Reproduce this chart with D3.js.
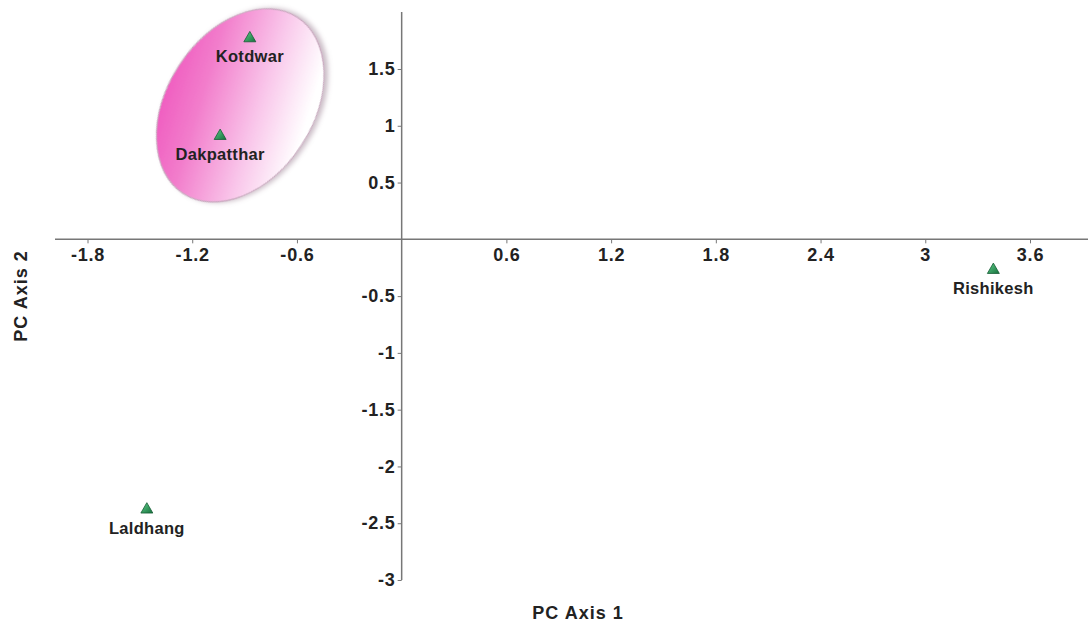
<!DOCTYPE html>
<html>
<head>
<meta charset="utf-8">
<script src="https://cdn.jsdelivr.net/npm/d3@7"></script>
<style>
  html, body { margin: 0; padding: 0; background: #fff; }
  svg text { font-family: "Liberation Sans", Arial, sans-serif; font-weight: bold; fill: #222; }
</style>
</head>
<body>
<svg id="chart" width="1088" height="630"></svg>
<script>
// ---- data ----
const sites = ["Kotdwar", "Dakpatthar", "Laldhang", "Rishikesh"];
const pc1 = [-0.87, -1.04, -1.46, 3.39];
const pc2 = [1.77, 0.91, -2.38, -0.27];
const xTicks = [-1.8, -1.2, -0.6, 0.6, 1.2, 1.8, 2.4, 3, 3.6];
const yTicks = [1.5, 1, 0.5, -0.5, -1, -1.5, -2, -2.5, -3];
const xTitle = "PC Axis 1";
const yTitle = "PC Axis 2";
// cluster ellipse (centre in data units)
const clusterCentre = [-0.925, 1.18];

const svg = d3.select("#chart");
const x = d3.scaleLinear().domain([-1.8, 3.6]).range([87.5, 1030]);
const y = d3.scaleLinear().domain([-3, 1.5]).range([580, 69]);
const fmt = d => String(d);

// defs
const defs = svg.append("defs");
const grad = defs.append("linearGradient").attr("id", "pinkGrad")
  .attr("gradientUnits", "userSpaceOnUse")
  .attr("x1", -30).attr("y1", -95).attr("x2", 25).attr("y2", 95);
grad.append("stop").attr("offset", "0").attr("stop-color", "#ee4cba");
grad.append("stop").attr("offset", "0.3").attr("stop-color", "#f27ccb");
grad.append("stop").attr("offset", "0.6").attr("stop-color", "#f9c6ea");
grad.append("stop").attr("offset", "0.85").attr("stop-color", "#ffffff");
const shadow = defs.append("filter").attr("id", "shadow")
  .attr("x", "-20%").attr("y", "-20%").attr("width", "140%").attr("height", "140%");
shadow.append("feDropShadow").attr("dx", 2).attr("dy", 3).attr("stdDeviation", 2.5)
  .attr("flood-color", "#8a6a80").attr("flood-opacity", 0.45);
const triGrad = defs.append("linearGradient").attr("id", "triGrad")
  .attr("x1", "0").attr("y1", "0").attr("x2", "1").attr("y2", "1");
triGrad.append("stop").attr("offset", "0").attr("stop-color", "#5fd08a");
triGrad.append("stop").attr("offset", "1").attr("stop-color", "#16703d");

// ellipse
svg.append("g")
  .attr("transform", `translate(${x(clusterCentre[0])},${y(clusterCentre[1])}) rotate(-57)`)
  .append("ellipse")
  .attr("cx", 0).attr("cy", 0).attr("rx", 105).attr("ry", 73)
  .attr("fill", "url(#pinkGrad)")
  .attr("stroke", "#c9a9bf").attr("stroke-width", 1.2)
  .attr("filter", "url(#shadow)");

// axes
const axisColor = "#777";
const xAxis = svg.append("g").attr("transform", `translate(0,${y(0)})`)
  .call(d3.axisBottom(x).tickValues(xTicks).tickSize(4).tickSizeOuter(0).tickFormat(fmt));
xAxis.select(".domain").remove();
xAxis.selectAll(".tick line").attr("stroke", axisColor);
xAxis.selectAll(".tick text").attr("font-size", 18).attr("letter-spacing", 0.8)
  .attr("dy", "0.95em").attr("y", 5).attr("fill", "#222");
xAxis.append("line").attr("x1", 55).attr("x2", 1088).attr("y1", 0).attr("y2", 0)
  .attr("stroke", axisColor).attr("stroke-width", 1.5);

const yAxis = svg.append("g").attr("transform", `translate(${x(0)},0)`)
  .call(d3.axisLeft(y).tickValues(yTicks).tickSize(4).tickSizeOuter(0).tickFormat(fmt));
yAxis.select(".domain").remove();
yAxis.selectAll(".tick line").attr("stroke", axisColor);
yAxis.selectAll(".tick text").attr("font-size", 18).attr("letter-spacing", 0.8)
  .attr("x", -6).attr("fill", "#222");
yAxis.append("line").attr("x1", 0).attr("x2", 0).attr("y1", 12).attr("y2", y(-3))
  .attr("stroke", axisColor).attr("stroke-width", 1.5);

// axis titles
svg.append("text").attr("x", 578).attr("y", 619).attr("text-anchor", "middle")
  .attr("font-size", 18).attr("letter-spacing", 1).text(xTitle);
svg.append("text").attr("transform", "translate(27,296) rotate(-90)").attr("text-anchor", "middle")
  .attr("font-size", 18).attr("letter-spacing", 1).text(yTitle);

// points
const pts = sites.map((s, i) => ({ name: s, px: pc1[i], py: pc2[i] }));
const tri = d3.symbol().type(d3.symbolTriangle).size(62);
const g = svg.append("g").selectAll("g").data(pts).join("g")
  .attr("transform", d => `translate(${x(d.px)},${y(d.py)})`);
g.append("path").attr("d", tri).attr("fill", "url(#triGrad)")
  .attr("stroke", "#145c33").attr("stroke-width", 0.8);
g.append("text").attr("y", 24).attr("text-anchor", "middle").attr("font-size", 16.5)
  .attr("letter-spacing", 0.3).text(d => d.name);
</script>
</body>
</html>
